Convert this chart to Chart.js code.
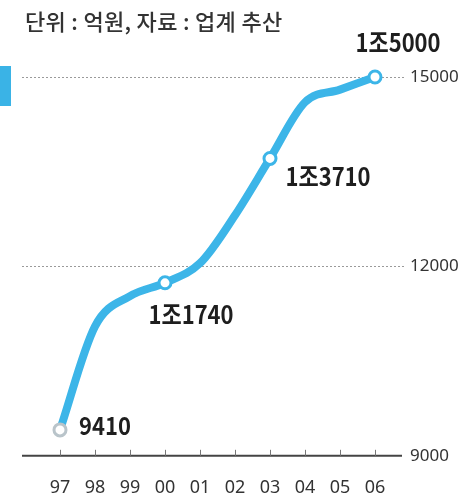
<!DOCTYPE html>
<html>
<head>
<meta charset="utf-8">
<script src="https://cdn.jsdelivr.net/npm/chart.js@4.4.0/dist/chart.umd.min.js"></script>
<style>
    html, body { margin: 0; padding: 0; background: #fff; }
    #wrap { position: relative; width: 467px; height: 501px; }
    #unit {
        position: absolute; left: 25px; top: 4px;
        font: 500 22px "Noto Sans CJK KR", sans-serif; color: #333;
        letter-spacing: 0.3px; white-space: nowrap;
    }
    #tab { position: absolute; left: 0; top: 66px; width: 11px; height: 40px; background: #3ab3e6; }
    canvas { position: absolute; left: 0; top: 0; }
</style>
</head>
<body>
<div id="wrap">
    <canvas id="sales-chart" width="467" height="501"></canvas>
    <div id="unit">단위 : 억원, 자료 : 업계 추산</div>
    <div id="tab"></div>
</div>
<script>
const years = ["97", "98", "99", "00", "01", "02", "03", "04", "05", "06"];
const sales = [9410, 11050, 11530, 11740, 12050, 12810, 13710, 14600, 14800, 15000];
const labelled = [true, false, false, true, false, false, true, false, false, true];
const yTicks = [9000, 12000, 15000];

const blue = "#3cb5e8";

// 11740 -> "1조1740"
const formatWon = (v) => (v >= 10000 ? Math.floor(v / 10000) + "조" + (v % 10000) : String(v));

const referenceLines = {
    id: "referenceLines",
    beforeDatasetsDraw(chart) {
        const { ctx, scales } = chart;
        const y = scales.y;
        ctx.save();
        // dotted guides at the upper ticks
        ctx.strokeStyle = "#9a9a9a";
        ctx.lineWidth = 1;
        ctx.setLineDash([2, 2]);
        [12000, 15000].forEach((v) => {
            const py = Math.round(y.getPixelForValue(v)) + 0.5;
            ctx.beginPath();
            ctx.moveTo(22, py);
            ctx.lineTo(406, py);
            ctx.stroke();
        });
        // base axis line with small ticks
        ctx.setLineDash([]);
        ctx.strokeStyle = "#444";
        ctx.lineWidth = 2;
        const base = y.getPixelForValue(9000);
        ctx.beginPath();
        ctx.moveTo(22, base);
        ctx.lineTo(402, base);
        ctx.stroke();
        ctx.lineWidth = 1;
        ctx.strokeStyle = "#777";
        years.forEach((_, i) => {
            const px = Math.round(scales.x.getPixelForTick(i)) + 0.5;
            ctx.beginPath();
            ctx.moveTo(px, base - 6);
            ctx.lineTo(px, base);
            ctx.stroke();
        });
        ctx.restore();
    },
};

const valueLabels = {
    id: "valueLabels",
    afterDatasetsDraw(chart, args, opts) {
        const { ctx } = chart;
        const meta = chart.getDatasetMeta(0);
        ctx.save();
        ctx.font = 'bold 25px "Noto Sans CJK KR", sans-serif';
        ctx.fillStyle = "#1e1e1e";
        ctx.textAlign = "center";
        ctx.textBaseline = "middle";
        meta.data.forEach((pt, i) => {
            if (!labelled[i]) return;
            const off = opts.offsets[i];
            // slightly condensed lettering
            ctx.save();
            ctx.translate(pt.x + off[0], pt.y + off[1]);
            ctx.scale(0.88, 1);
            ctx.fillText(formatWon(sales[i]), 0, 0);
            ctx.restore();
        });
        ctx.restore();
    },
};

const ctx = document.querySelector("#sales-chart");

new Chart(ctx, {
    type: "line",
    data: {
        labels: years,
        datasets: [
            {
                data: sales,
                borderColor: blue,
                borderWidth: 8,
                tension: 0.4,
                cubicInterpolationMode: "monotone",
                pointRadius: labelled.map((l) => (l ? 6 : 0)),
                pointBackgroundColor: "#fff",
                pointBorderColor: labelled.map((l, i) => (i === 0 ? "#b9c4ca" : blue)),
                pointBorderWidth: 3,
                clip: false,
            },
        ],
    },
    options: {
        responsive: false,
        animation: false,
        layout: { padding: { left: 60, top: 77, right: 0, bottom: 0 } },
        plugins: {
            legend: { display: false },
            tooltip: { enabled: false },
            valueLabels: {
                offsets: [[45, -4], null, null, [26, 32], null, null, [58, 18], null, null, [23, -35]],
            },
        },
        scales: {
            x: {
                offset: false,
                grid: { display: false },
                border: { display: false },
                ticks: {
                    padding: 13,
                    color: "#333",
                    font: { family: '"Noto Sans", sans-serif', size: 18 },
                },
                afterFit(scale) {
                    scale.height = 38;
                },
            },
            y: {
                position: "right",
                min: 9000,
                max: 15000,
                grid: { display: false, drawTicks: false },
                border: { display: false },
                afterBuildTicks(scale) {
                    scale.ticks = yTicks.map((v) => ({ value: v }));
                },
                ticks: {
                    padding: 35,
                    color: "#333",
                    font: { family: '"Noto Sans", sans-serif', size: 17 },
                    callback: (v) => String(v),
                },
                afterFit(scale) {
                    scale.width = 92;
                },
            },
        },
    },
    plugins: [referenceLines, valueLabels],
});
</script>
</body>
</html>
